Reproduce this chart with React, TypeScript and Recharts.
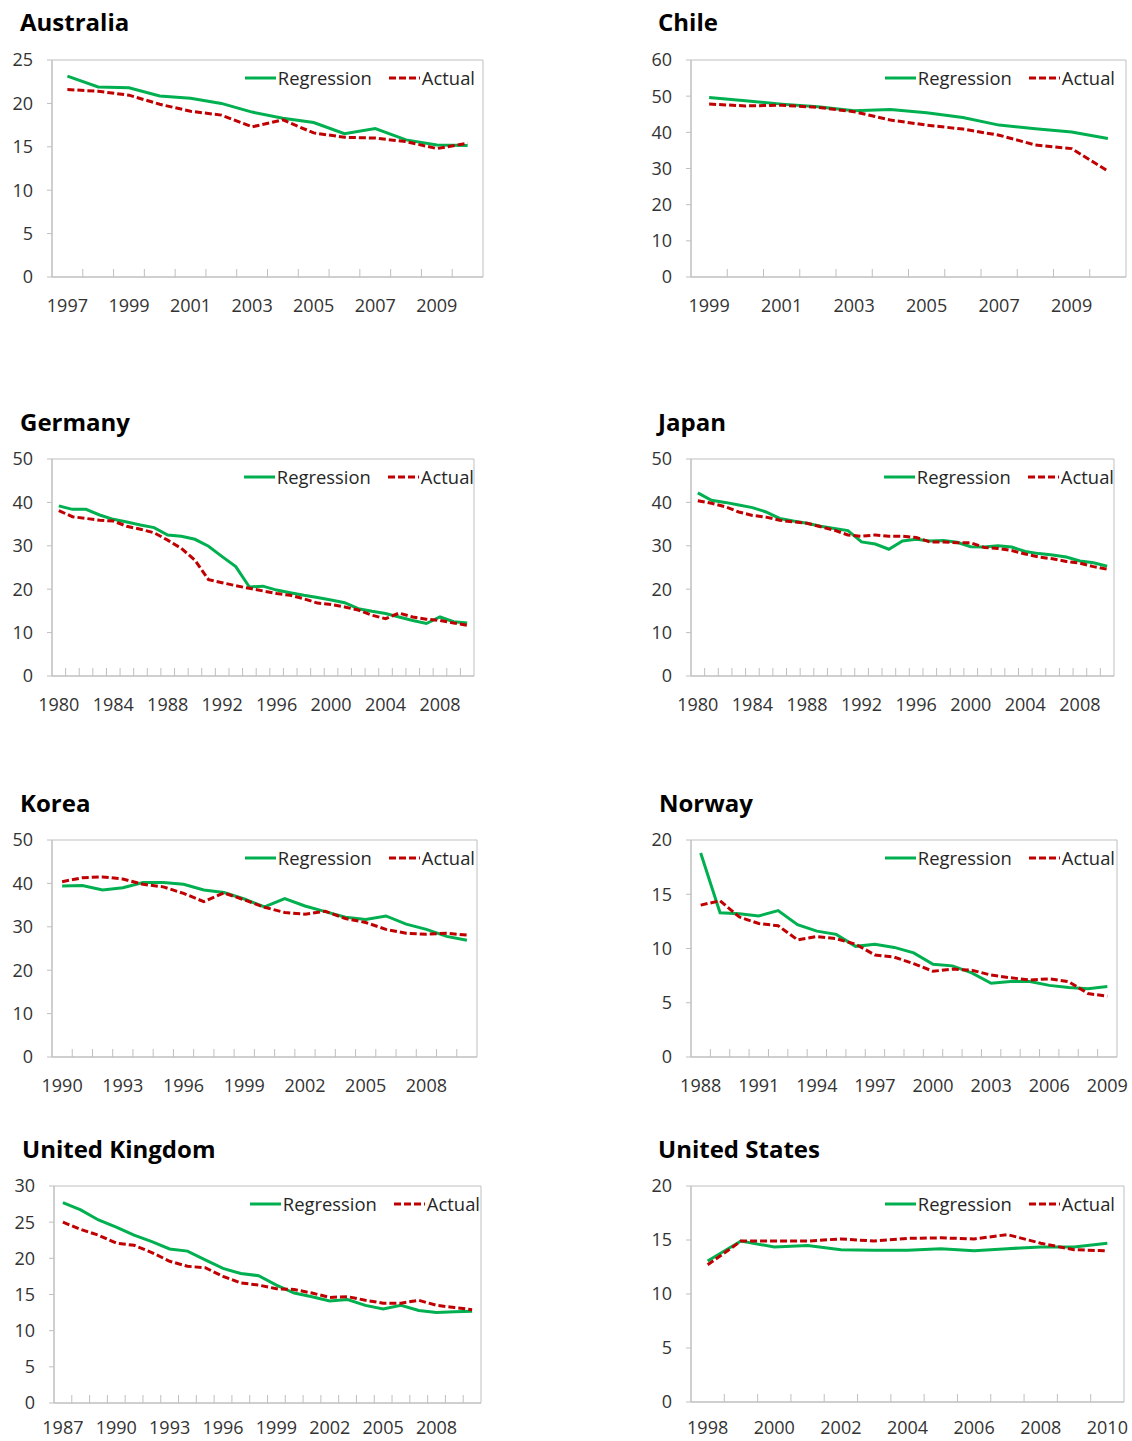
import React from 'react';
import { LineChart, Line, XAxis, YAxis, Legend, ReferenceArea } from 'recharts';

// ---------------- DATA ----------------
const AUS_YEARS = [1997, 1998, 1999, 2000, 2001, 2002, 2003, 2004, 2005, 2006, 2007, 2008, 2009, 2010];
const AUS_REG = [23.15, 21.9, 21.8, 20.85, 20.6, 20.0, 19.0, 18.3, 17.8, 16.5, 17.1, 15.8, 15.2, 15.15];
const AUS_ACT = [21.6, 21.4, 20.95, 19.9, 19.1, 18.65, 17.3, 18.1, 16.6, 16.1, 16.0, 15.6, 14.8, 15.4];
const AUS_XTICKS = [1997, 1999, 2001, 2003, 2005, 2007, 2009];
const AUS_YTICKS = [0, 5, 10, 15, 20, 25];

const CHL_YEARS = [1999, 2000, 2001, 2002, 2003, 2004, 2005, 2006, 2007, 2008, 2009, 2010];
const CHL_REG = [49.6, 48.7, 47.8, 47.1, 46.0, 46.3, 45.4, 44.1, 42.0, 41.0, 40.1, 38.3];
const CHL_ACT = [47.8, 47.3, 47.5, 46.9, 45.7, 43.4, 42.0, 40.9, 39.2, 36.5, 35.5, 29.3];
const CHL_XTICKS = [1999, 2001, 2003, 2005, 2007, 2009];
const CHL_YTICKS = [0, 10, 20, 30, 40, 50, 60];

const DEU_YEARS = [1980, 1981, 1982, 1983, 1984, 1985, 1986, 1987, 1988, 1989, 1990, 1991, 1992, 1993, 1994, 1995, 1996, 1997, 1998, 1999, 2000, 2001, 2002, 2003, 2004, 2005, 2006, 2007, 2008, 2009, 2010];
const DEU_REG = [39.2, 38.4, 38.4, 37.1, 36.1, 35.5, 34.8, 34.2, 32.5, 32.2, 31.5, 29.9, 27.5, 25.2, 20.5, 20.7, 19.8, 19.2, 18.6, 18.1, 17.5, 16.9, 15.5, 14.9, 14.4, 13.6, 12.8, 12.1, 13.6, 12.5, 12.2];
const DEU_ACT = [38.1, 36.7, 36.3, 35.9, 35.7, 34.5, 33.8, 33.0, 31.3, 29.4, 26.7, 22.2, 21.5, 20.8, 20.2, 19.6, 19.0, 18.6, 17.8, 16.8, 16.5, 15.9, 15.2, 14.0, 13.2, 14.5, 13.6, 13.1, 12.8, 12.2, 11.7];
const DEU_XTICKS = [1980, 1984, 1988, 1992, 1996, 2000, 2004, 2008];
const DEU_YTICKS = [0, 10, 20, 30, 40, 50];

const JPN_YEARS = [1980, 1981, 1982, 1983, 1984, 1985, 1986, 1987, 1988, 1989, 1990, 1991, 1992, 1993, 1994, 1995, 1996, 1997, 1998, 1999, 2000, 2001, 2002, 2003, 2004, 2005, 2006, 2007, 2008, 2009, 2010];
const JPN_REG = [42.2, 40.5, 40.0, 39.4, 38.8, 37.8, 36.3, 35.7, 35.2, 34.5, 34.0, 33.5, 30.9, 30.4, 29.2, 31.1, 31.5, 31.1, 31.2, 30.8, 29.8, 29.7, 30.0, 29.7, 28.7, 28.2, 27.9, 27.4, 26.5, 26.1, 25.3];
const JPN_ACT = [40.4, 39.8, 39.0, 37.8, 37.0, 36.6, 35.9, 35.5, 35.2, 34.4, 33.6, 32.5, 32.2, 32.5, 32.2, 32.2, 31.9, 30.9, 30.9, 30.7, 30.7, 29.6, 29.4, 28.9, 28.1, 27.4, 27.0, 26.4, 26.0, 25.2, 24.6];
const JPN_XTICKS = [1980, 1984, 1988, 1992, 1996, 2000, 2004, 2008];
const JPN_YTICKS = [0, 10, 20, 30, 40, 50];

const KOR_YEARS = [1990, 1991, 1992, 1993, 1994, 1995, 1996, 1997, 1998, 1999, 2000, 2001, 2002, 2003, 2004, 2005, 2006, 2007, 2008, 2009, 2010];
const KOR_REG = [39.4, 39.5, 38.5, 39.0, 40.2, 40.2, 39.8, 38.5, 37.9, 36.4, 34.6, 36.5, 34.8, 33.5, 32.2, 31.7, 32.5, 30.6, 29.4, 27.8, 26.9];
const KOR_ACT = [40.4, 41.3, 41.5, 41.0, 39.8, 39.2, 37.7, 35.8, 37.8, 36.2, 34.5, 33.3, 32.9, 33.6, 31.9, 31.0, 29.4, 28.5, 28.3, 28.5, 28.1];
const KOR_XTICKS = [1990, 1993, 1996, 1999, 2002, 2005, 2008];
const KOR_YTICKS = [0, 10, 20, 30, 40, 50];

const NOR_YEARS = [1988, 1989, 1990, 1991, 1992, 1993, 1994, 1995, 1996, 1997, 1998, 1999, 2000, 2001, 2002, 2003, 2004, 2005, 2006, 2007, 2008, 2009];
const NOR_REG = [18.8, 13.3, 13.2, 13.0, 13.5, 12.2, 11.6, 11.3, 10.2, 10.4, 10.1, 9.6, 8.55, 8.4, 7.75, 6.8, 6.95, 6.95, 6.6, 6.4, 6.3, 6.5];
const NOR_ACT = [14.0, 14.4, 12.9, 12.3, 12.1, 10.8, 11.1, 10.9, 10.4, 9.4, 9.2, 8.6, 7.9, 8.1, 8.0, 7.55, 7.3, 7.1, 7.2, 6.95, 5.85, 5.6];
const NOR_XTICKS = [1988, 1991, 1994, 1997, 2000, 2003, 2006, 2009];
const NOR_YTICKS = [0, 5, 10, 15, 20];

const GBR_YEARS = [1987, 1988, 1989, 1990, 1991, 1992, 1993, 1994, 1995, 1996, 1997, 1998, 1999, 2000, 2001, 2002, 2003, 2004, 2005, 2006, 2007, 2008, 2009, 2010];
const GBR_REG = [27.7, 26.7, 25.3, 24.3, 23.2, 22.3, 21.3, 21.0, 19.8, 18.6, 17.9, 17.6, 16.3, 15.2, 14.7, 14.1, 14.3, 13.5, 13.0, 13.5, 12.8, 12.5, 12.6, 12.7];
const GBR_ACT = [25.0, 24.0, 23.2, 22.1, 21.8, 20.8, 19.6, 18.9, 18.7, 17.5, 16.6, 16.3, 15.8, 15.7, 15.2, 14.6, 14.7, 14.2, 13.8, 13.8, 14.2, 13.5, 13.2, 12.9];
const GBR_XTICKS = [1987, 1990, 1993, 1996, 1999, 2002, 2005, 2008];
const GBR_YTICKS = [0, 5, 10, 15, 20, 25, 30];

const USA_YEARS = [1998, 1999, 2000, 2001, 2002, 2003, 2004, 2005, 2006, 2007, 2008, 2009, 2010];
const USA_REG = [13.05, 14.9, 14.35, 14.5, 14.1, 14.05, 14.05, 14.2, 14.0, 14.2, 14.35, 14.35, 14.7];
const USA_ACT = [12.7, 14.9, 14.9, 14.9, 15.1, 14.9, 15.15, 15.2, 15.1, 15.5, 14.7, 14.1, 14.0];
const USA_XTICKS = [1998, 2000, 2002, 2004, 2006, 2008, 2010];
const USA_YTICKS = [0, 5, 10, 15, 20];

// ---------------- STYLE ----------------
const FONT = '"Open Sans", "Noto Sans", sans-serif';
const GREEN = '#00B050';
const RED = '#C00000';
const FRAME = '#BFBFBF';
const TEXT = '#333333';
const PAGE_H = 1441;

type PanelCfg = {
  title: string;
  years: number[];
  reg: number[];
  act: number[];
  xTicks: number[];
  yTicks: number[];
  col: number;
  titleX: number;
  titleY: number;
  plotL: number;
  plotR: number;
  plotT: number;
  plotB: number;
  legendRightEdge: number;
  labelGap: number;
};

const PANELS: PanelCfg[] = [
  { title: 'Australia', years: AUS_YEARS, reg: AUS_REG, act: AUS_ACT, xTicks: AUS_XTICKS, yTicks: AUS_YTICKS, col: 0, titleX: 20, titleY: 22, plotL: 52, plotR: 483, plotT: 60, plotB: 277, legendRightEdge: 475, labelGap: 22 },
  { title: 'Chile', years: CHL_YEARS, reg: CHL_REG, act: CHL_ACT, xTicks: CHL_XTICKS, yTicks: CHL_YTICKS, col: 1, titleX: 658, titleY: 22, plotL: 691, plotR: 1126, plotT: 60, plotB: 277, legendRightEdge: 1115, labelGap: 22 },
  { title: 'Germany', years: DEU_YEARS, reg: DEU_REG, act: DEU_ACT, xTicks: DEU_XTICKS, yTicks: DEU_YTICKS, col: 0, titleX: 20, titleY: 422, plotL: 52, plotR: 474, plotT: 459, plotB: 676, legendRightEdge: 474, labelGap: 22 },
  { title: 'Japan', years: JPN_YEARS, reg: JPN_REG, act: JPN_ACT, xTicks: JPN_XTICKS, yTicks: JPN_YTICKS, col: 1, titleX: 658, titleY: 422, plotL: 691, plotR: 1114, plotT: 459, plotB: 676, legendRightEdge: 1114, labelGap: 22 },
  { title: 'Korea', years: KOR_YEARS, reg: KOR_REG, act: KOR_ACT, xTicks: KOR_XTICKS, yTicks: KOR_YTICKS, col: 0, titleX: 20, titleY: 803, plotL: 52, plotR: 477, plotT: 840, plotB: 1057, legendRightEdge: 475, labelGap: 22 },
  { title: 'Norway', years: NOR_YEARS, reg: NOR_REG, act: NOR_ACT, xTicks: NOR_XTICKS, yTicks: NOR_YTICKS, col: 1, titleX: 659, titleY: 803, plotL: 691, plotR: 1117, plotT: 840, plotB: 1057, legendRightEdge: 1115, labelGap: 22 },
  { title: 'United Kingdom', years: GBR_YEARS, reg: GBR_REG, act: GBR_ACT, xTicks: GBR_XTICKS, yTicks: GBR_YTICKS, col: 0, titleX: 22, titleY: 1149, plotL: 54, plotR: 481, plotT: 1186, plotB: 1403, legendRightEdge: 480, labelGap: 18 },
  { title: 'United States', years: USA_YEARS, reg: USA_REG, act: USA_ACT, xTicks: USA_XTICKS, yTicks: USA_YTICKS, col: 1, titleX: 658, titleY: 1149, plotL: 691, plotR: 1124, plotT: 1186, plotB: 1402, legendRightEdge: 1115, labelGap: 19 },
];

const LegendBox = () => (
  <div style={{ display: 'flex', alignItems: 'center', fontFamily: FONT, fontSize: 18.4, color: '#262626', whiteSpace: 'nowrap', lineHeight: '24px' }}>
    <svg width={31} height={10} style={{ display: 'block' }}>
      <line x1={0} y1={5} x2={31} y2={5} stroke={GREEN} strokeWidth={3} />
    </svg>
    <span style={{ marginLeft: 2 }}>Regression</span>
    <svg width={31} height={10} style={{ display: 'block', marginLeft: 17 }}>
      <line x1={0} y1={5} x2={31} y2={5} stroke={RED} strokeWidth={3} strokeDasharray="7 3" />
    </svg>
    <span style={{ marginLeft: 2 }}>Actual</span>
  </div>
);

const CHART_W = 490;
const emptyLabel = () => '';

function Panel({ cfg }: { cfg: PanelCfg }) {
  const data = cfg.years.map((y, i) => ({ year: y, reg: cfg.reg[i], act: cfg.act[i] }));
  const x0 = cfg.col === 0 ? 0 : 640;
  const y0 = cfg.plotT - 30;
  const h = Math.min(cfg.plotB - y0 + 50, PAGE_H - y0);
  const margin = {
    top: cfg.plotT - y0,
    right: x0 + CHART_W - cfg.plotR,
    bottom: y0 + h - cfg.plotB - 1,
    left: 0,
  };
  const yw = cfg.plotL - x0;
  const first = cfg.years[0];
  const last = cfg.years[cfg.years.length - 1];
  const domain: [number, number] = [first - 0.5, last + 0.5];
  const bounds = cfg.years.slice(0, -1).map((y) => y + 0.5);
  const ymax = cfg.yTicks[cfg.yTicks.length - 1];

  return (
    <>
      <div
        style={{
          position: 'absolute',
          left: cfg.titleX,
          top: cfg.titleY - 17,
          lineHeight: '34px',
          fontFamily: FONT,
          fontWeight: 700,
          fontSize: 24,
          color: '#000',
          whiteSpace: 'nowrap',
        }}
      >
        {cfg.title}
      </div>
      <div style={{ position: 'absolute', left: x0, top: y0 }}>
        <LineChart width={CHART_W} height={h} data={data} margin={margin} style={{ fontFamily: FONT }}>
          <XAxis
            type="number"
            dataKey="year"
            domain={domain}
            ticks={bounds}
            interval={0}
            height={1}
            mirror
            tickFormatter={emptyLabel}
            tick={{ fontSize: 1, fill: 'none' }}
            tickLine={{ stroke: FRAME, strokeWidth: 1 }}
            tickSize={8}
            axisLine={{ stroke: FRAME }}
          />
          <XAxis
            xAxisId="labels"
            type="number"
            dataKey="year"
            domain={domain}
            ticks={cfg.xTicks}
            interval={0}
            height={1}
            tickLine={false}
            axisLine={false}
            tickSize={0}
            tickMargin={cfg.labelGap}
            tick={{ fontSize: 18, fill: TEXT, fontFamily: FONT }}
          />
          <YAxis
            type="number"
            domain={[0, ymax]}
            ticks={cfg.yTicks}
            interval={0}
            width={yw}
            tickLine={{ stroke: FRAME }}
            tickSize={5}
            tickMargin={14}
            axisLine={{ stroke: FRAME }}
            tick={{ fontSize: 18, fill: TEXT, fontFamily: FONT }}
          />
          <ReferenceArea
            x1={domain[0]}
            x2={domain[1]}
            y1={0}
            y2={ymax}
            fill="none"
            fillOpacity={0}
            stroke={FRAME}
            strokeWidth={1}
            ifOverflow="visible"
          />
          <Legend
            verticalAlign="middle"
            align="center"
            layout="horizontal"
            wrapperStyle={{
              top: margin.top + 6,
              right: x0 + CHART_W - cfg.legendRightEdge,
              left: 'auto',
              bottom: 'auto',
              width: 'auto',
              height: 'auto',
            }}
            content={() => <LegendBox />}
          />
          <Line
            type="linear"
            dataKey="reg"
            name="Regression"
            stroke={GREEN}
            strokeWidth={3}
            dot={false}
            activeDot={false}
            isAnimationActive={false}
          />
          <Line
            type="linear"
            dataKey="act"
            name="Actual"
            stroke={RED}
            strokeWidth={3}
            strokeDasharray="7 3"
            dot={false}
            activeDot={false}
            isAnimationActive={false}
          />
        </LineChart>
      </div>
    </>
  );
}

export default function App() {
  return (
    <div style={{ position: 'absolute', left: 0, top: 0, width: 1132, height: PAGE_H, background: '#fff', overflow: 'hidden' }}>
      {PANELS.map((p) => (
        <Panel key={p.title} cfg={p} />
      ))}
    </div>
  );
}
